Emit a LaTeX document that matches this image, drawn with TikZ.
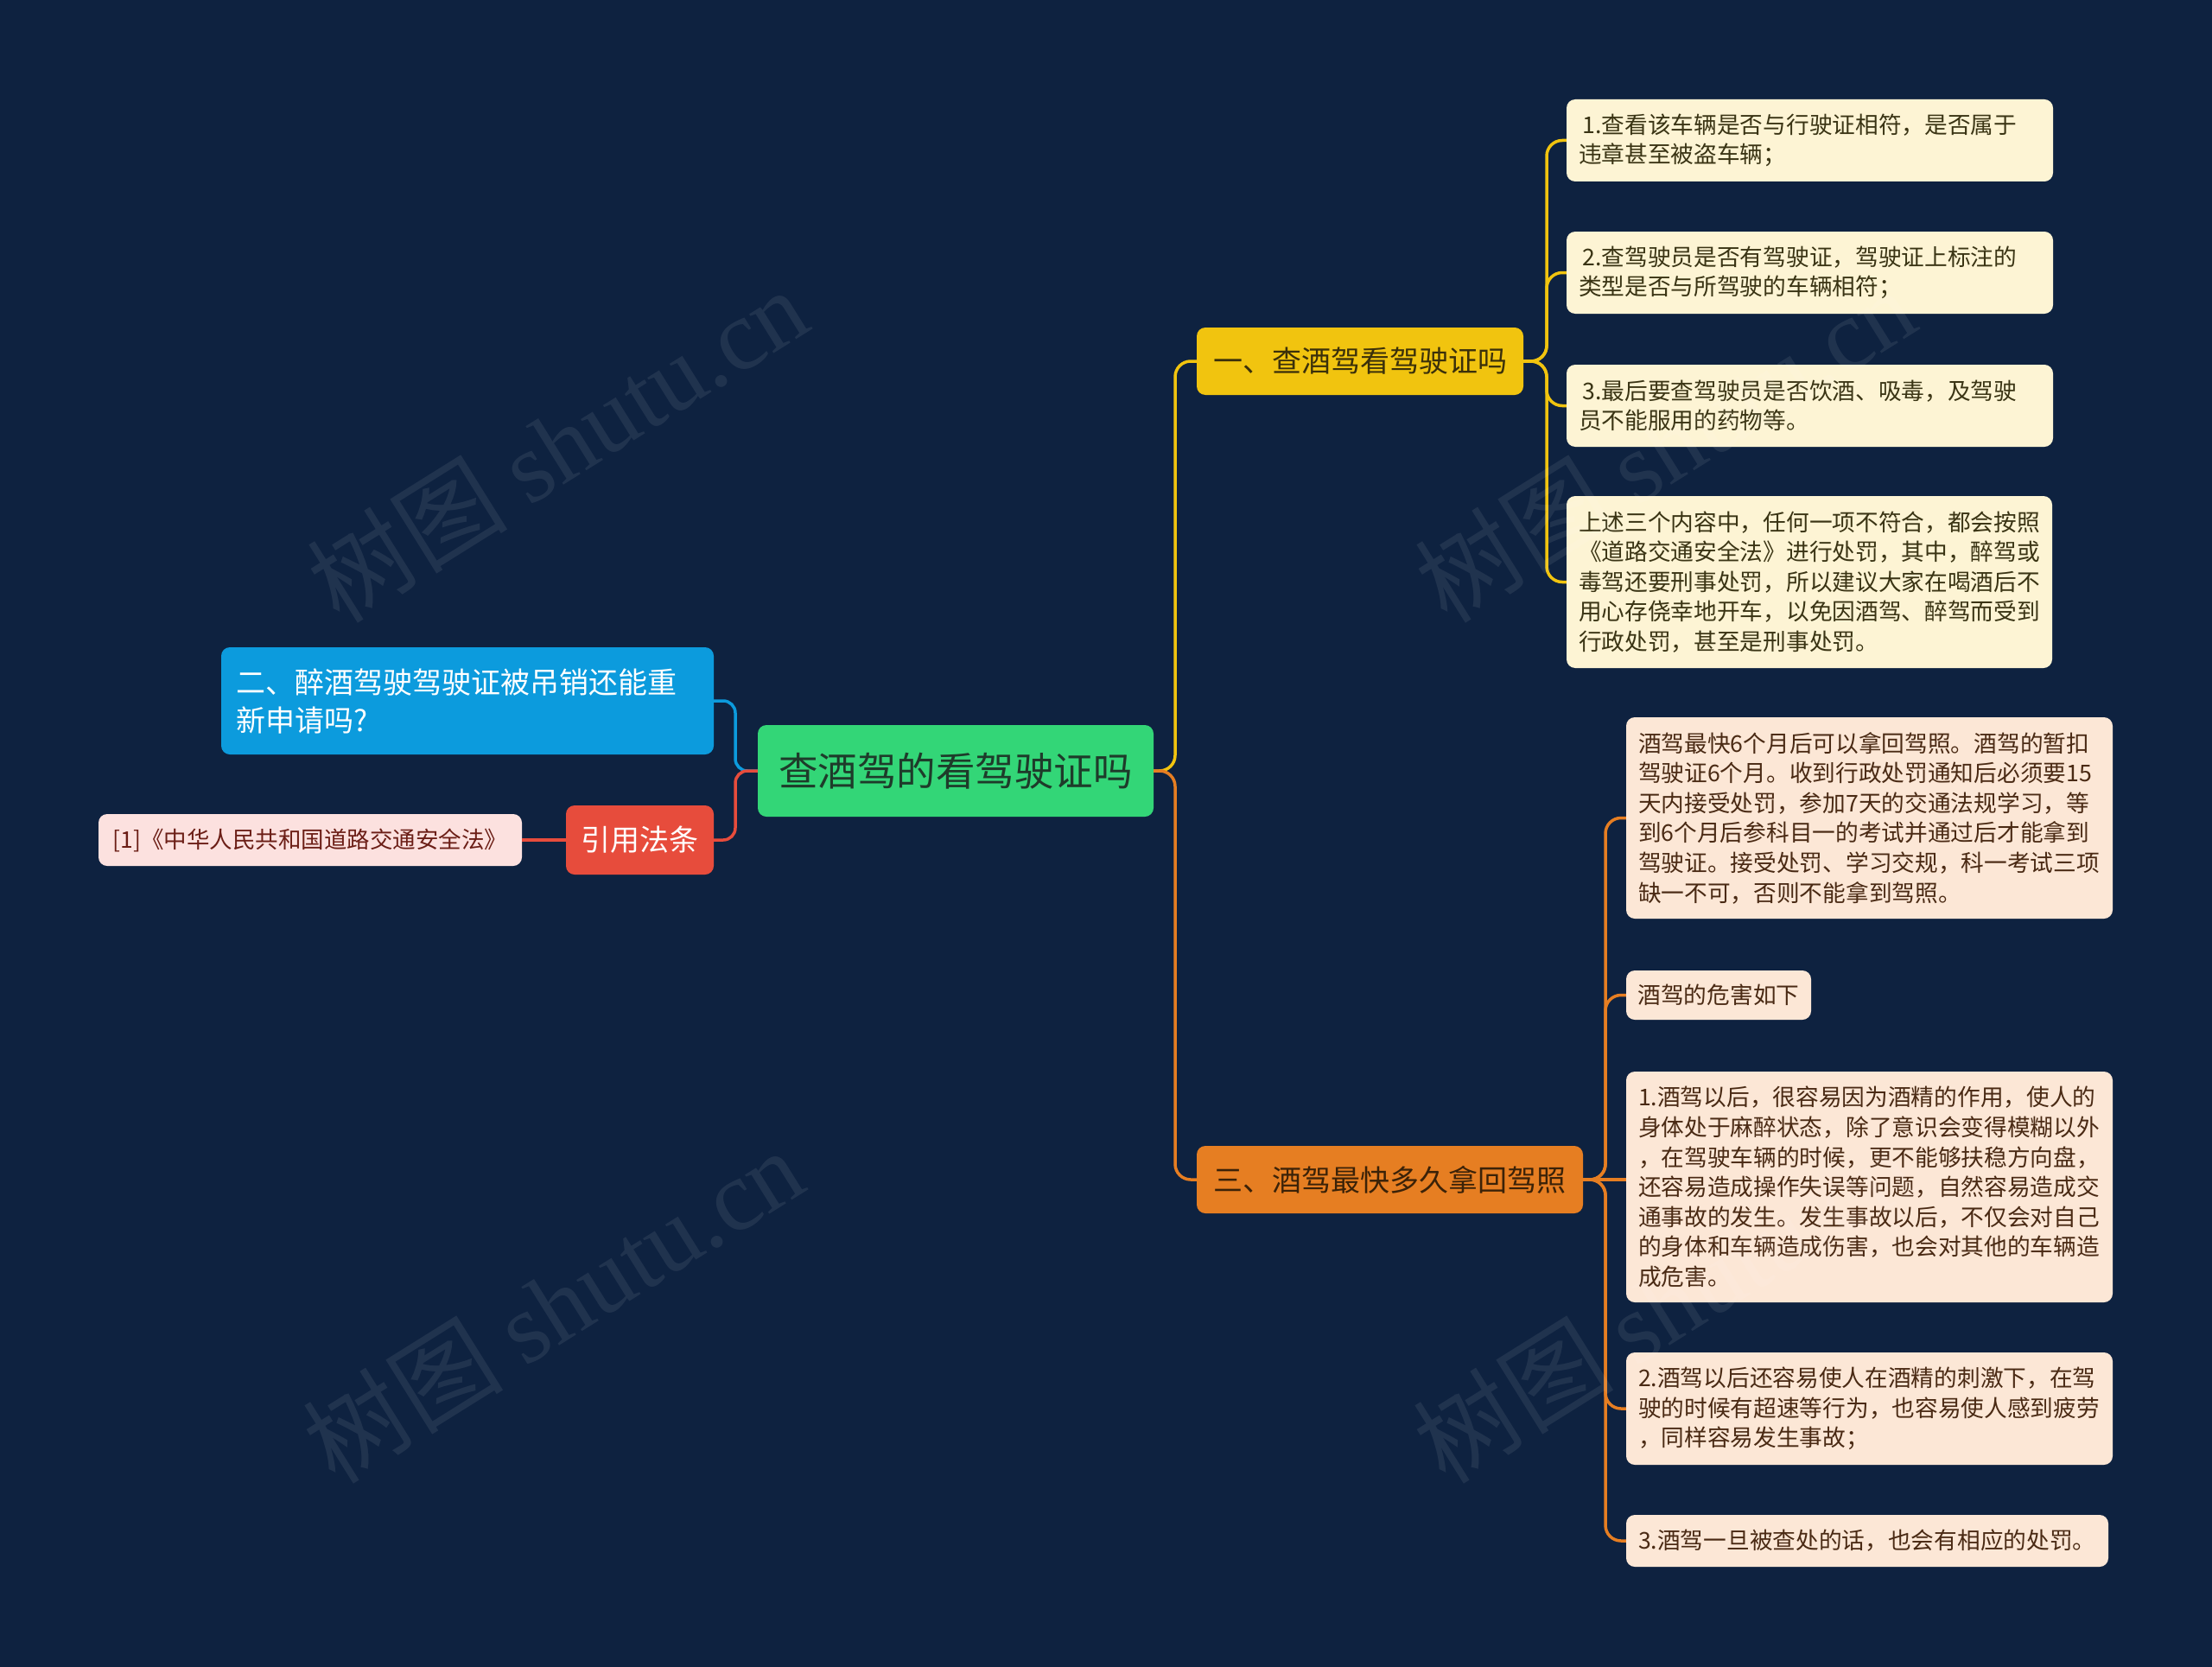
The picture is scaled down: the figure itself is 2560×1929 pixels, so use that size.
\documentclass[tikz,border=0pt]{standalone}
\usepackage{fontspec}
\setmainfont{Noto Sans CJK SC}
\newfontfamily\wmserif{Liberation Serif}
\definecolor{bg}{HTML}{0E2240}
\definecolor{cgreen}{HTML}{33D677}
\definecolor{cyellow}{HTML}{F1C40F}
\definecolor{corange}{HTML}{E67E22}
\definecolor{cblue}{HTML}{0C9BDD}
\definecolor{cred}{HTML}{E74C3C}
\definecolor{lyel}{HTML}{FDF4D4}
\definecolor{lor}{HTML}{FCE7D6}
\definecolor{lpink}{HTML}{FCE1DF}
\definecolor{tyel}{HTML}{3A3414}
\definecolor{tor}{HTML}{4A2A14}
\definecolor{tpink}{HTML}{6B1E16}
\definecolor{tgreen}{HTML}{1E3B2A}
\definecolor{tym}{HTML}{3B300A}
\definecolor{tom}{HTML}{3B2208}
\begin{document}
\begin{tikzpicture}[x=1pt,y=-1pt,
  base/.style={rounded corners=10pt, inner ysep=0pt, anchor=center},
  rootbox/.style={base, fill=cgreen, text=tgreen, font=\fontsize{45.5}{52}\selectfont, align=center},
  mainY/.style={base, fill=cyellow, text=tym, font=\fontsize{34}{44}\selectfont, align=center},
  mainO/.style={base, fill=corange, text=tom, font=\fontsize{34}{44}\selectfont, align=center},
  mainB/.style={base, fill=cblue, text=white, font=\fontsize{34}{44}\selectfont, align=left, inner xsep=17pt},
  mainR/.style={base, fill=cred, text=white, font=\fontsize{34}{44}\selectfont, align=center},
  leafP/.style={base, fill=lpink, text=tpink, font=\fontsize{26.5}{34}\selectfont, align=center},
  leafY/.style={base, fill=lyel, text=tyel, font=\fontsize{26.7}{34.6}\selectfont, align=left, inner xsep=14pt},
  leafO/.style={base, fill=lor, text=tor, font=\fontsize{26.7}{34.6}\selectfont, align=left, inner xsep=14pt},
  lnY/.style={draw=cyellow, line width=3.5pt, rounded corners=18pt},
  lnO/.style={draw=corange, line width=3.5pt, rounded corners=18pt},
  lnB/.style={draw=cblue, line width=3.5pt, rounded corners=14pt},
  lnR/.style={draw=cred, line width=3.5pt, rounded corners=14pt},
  wm/.style={text=white, opacity=0.08, rotate=32, font=\fontsize{116}{116}\selectfont}
]
\fill[bg] (0,0) rectangle (2560,1929);
\useasboundingbox (0,0) rectangle (2560,1929);

% central
\node[rootbox, minimum width=458pt, minimum height=106pt] (root) at (1106,892) {查酒驾的看驾驶证吗};

% main branches
\node[mainY, minimum width=378pt, minimum height=78pt] (yel) at (1574,418) {一、查酒驾看驾驶证吗};
\node[mainO, minimum width=447pt, minimum height=78pt] (ora) at (1608.5,1365) {三、酒驾最快多久拿回驾照};
\node[mainB, minimum width=570pt, minimum height=124pt, text width=536pt] (blu) at (541,811) {二、醉酒驾驶驾驶证被吊销还能重\\新申请吗?};
\node[mainR, minimum width=171pt, minimum height=80pt] (red) at (740.5,972) {引用法条};
\node[leafP, minimum width=490pt, minimum height=60pt] (pink) at (359,972) {[1]《中华人民共和国道路交通安全法》};

% yellow leaves
\node[leafY, minimum width=563pt, minimum height=95pt, text width=535pt] (y1) at (2094.5,162.5) {\,1.查看该车辆是否与行驶证相符，是否属于\\违章甚至被盗车辆；};
\node[leafY, minimum width=563pt, minimum height=95pt, text width=535pt] (y2) at (2094.5,315.5) {\,2.查驾驶员是否有驾驶证，驾驶证上标注的\\类型是否与所驾驶的车辆相符；};
\node[leafY, minimum width=563pt, minimum height=95pt, text width=535pt] (y3) at (2094.5,469.5) {\,3.最后要查驾驶员是否饮酒、吸毒，及驾驶\\员不能服用的药物等。};
\node[leafY, minimum width=562pt, minimum height=199pt, text width=534pt] (y4) at (2094,673.5) {上述三个内容中，任何一项不符合，都会按照\\《道路交通安全法》进行处罚，其中，醉驾或\\毒驾还要刑事处罚，所以建议大家在喝酒后不\\用心存侥幸地开车，以免因酒驾、醉驾而受到\\行政处罚，甚至是刑事处罚。};

% orange leaves
\node[leafO, minimum width=563pt, minimum height=233pt, text width=535pt] (o1) at (2163.5,946.5) {酒驾最快6个月后可以拿回驾照。酒驾的暂扣\\驾驶证6个月。收到行政处罚通知后必须要15\\天内接受处罚，参加7天的交通法规学习，等\\到6个月后参科目一的考试并通过后才能拿到\\驾驶证。接受处罚、学习交规，科一考试三项\\缺一不可，否则不能拿到驾照。};
\node[leafO, align=center, inner xsep=0pt, minimum width=214pt, minimum height=57pt] (o2) at (1989,1151.5) {酒驾的危害如下};
\node[leafO, minimum width=563pt, minimum height=267pt, text width=535pt] (o3) at (2163.5,1373.5) {1.酒驾以后，很容易因为酒精的作用，使人的\\身体处于麻醉状态，除了意识会变得模糊以外\\，在驾驶车辆的时候，更不能够扶稳方向盘，\\还容易造成操作失误等问题，自然容易造成交\\通事故的发生。发生事故以后，不仅会对自己\\的身体和车辆造成伤害，也会对其他的车辆造\\成危害。};
\node[leafO, minimum width=563pt, minimum height=130pt, text width=535pt] (o4) at (2163.5,1630) {2.酒驾以后还容易使人在酒精的刺激下，在驾\\驶的时候有超速等行为，也容易使人感到疲劳\\，同样容易发生事故；};
\node[leafO, minimum width=558pt, minimum height=60pt, text width=530pt] (o5) at (2161,1783) {3.酒驾一旦被查处的话，也会有相应的处罚。};

% junction coordinates
\coordinate (jr) at (1360,892);
\coordinate (jl) at (851,892);
\coordinate (jy) at (1790,418);
\coordinate (jo) at (1858,1365);

% connectors from root
\draw[lnY] (root.east) -- (jr) |- (yel.west);
\draw[lnO] (root.east) -- (jr) |- (ora.west);
\draw[lnB] (root.west) -- (jl) |- (blu.east);
\draw[lnR] (root.west) -- (jl) |- (red.east);
\draw[lnR] (red.west) -- (pink.east);

% yellow children
\foreach \c in {y1,y2,y3,y4}{
  \draw[lnY] (yel.east) -- (jy) |- (\c.west);
}
% orange children
\foreach \c in {o1,o2,o4,o5}{
  \draw[lnO] (ora.east) -- (jo) |- (\c.west);
}
\draw[lnO] (ora.east) -- (jo) -- (o3.west |- jo);

% watermarks
\node[wm] (wm1) at (645,514) {树图 {\wmserif shutu.cn}};
\node[wm] (wm2) at (1927,514) {树图 {\wmserif shutu.cn}};
\node[wm] (wm3) at (640,1510) {树图 {\wmserif shutu.cn}};
\node[wm] (wm4) at (1925,1510) {树图 {\wmserif shutu.cn}};
\end{tikzpicture}
\end{document}
